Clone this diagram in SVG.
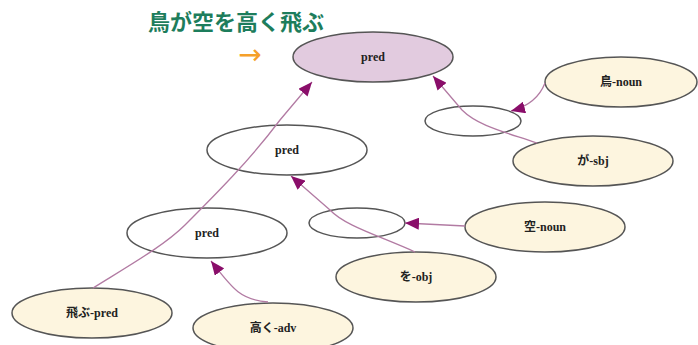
<svg xmlns="http://www.w3.org/2000/svg" width="698" height="345" viewBox="0 0 698 345">
<defs>
<marker id="ah" viewBox="0 0 14 12" refX="14" refY="6" markerWidth="14" markerHeight="12" markerUnits="userSpaceOnUse" orient="auto">
<path d="M0,0 L14,6 L0,12 Z" fill="#8a0e6a"/>
</marker>
<style>
.n ellipse{stroke:#555;stroke-width:1.5}
.w{fill:#fff}
.y{fill:#fdf5df}
.p{fill:#e2cbdf}
.t{font-family:"Liberation Serif","Noto Sans CJK JP",serif;font-weight:bold;font-size:12px;fill:#222;text-anchor:middle}
.e{fill:none;stroke:#b27ba3;stroke-width:1.3;marker-end:url(#ah)}
</style>
</defs>
<rect width="698" height="345" fill="#fff"/>
<text x="148" y="30" font-family="Noto Sans CJK JP, sans-serif" font-weight="bold" font-size="22" fill="#1d7d5c">鳥が空を高く飛ぶ</text>
<text x="250" y="64" font-family="DejaVu Sans, sans-serif" font-size="28" fill="#f5a02a" text-anchor="middle">→</text>
<g id="n_pred_top" class="n"><ellipse class="p" cx="373" cy="57" rx="80" ry="25"/><text class="t" x="373" y="61">pred</text></g>
<g id="n_tori" class="n"><ellipse class="y" cx="621" cy="82" rx="76" ry="25"/><text class="t" x="621" y="86">鳥-noun</text></g>
<g id="n_empty1" class="n"><ellipse class="w" cx="473" cy="121" rx="48" ry="15"/></g>
<g id="n_ga" class="n"><ellipse class="y" cx="593" cy="161" rx="80" ry="25"/><text class="t" x="593" y="165">が-sbj</text></g>
<g id="n_pred_mid" class="n"><ellipse class="w" cx="287" cy="150" rx="80" ry="25"/><text class="t" x="287" y="154">pred</text></g>
<g id="n_pred_low" class="n"><ellipse class="w" cx="207" cy="233" rx="80" ry="25"/><text class="t" x="207" y="237">pred</text></g>
<g id="n_empty2" class="n"><ellipse class="w" cx="357" cy="223" rx="48" ry="15"/></g>
<g id="n_sora" class="n"><ellipse class="y" cx="545" cy="227" rx="80" ry="25"/><text class="t" x="545" y="231">空-noun</text></g>
<g id="n_wo" class="n"><ellipse class="y" cx="416" cy="277" rx="80" ry="25"/><text class="t" x="416" y="281">を-obj</text></g>
<g id="n_tobu" class="n"><ellipse class="y" cx="92" cy="313" rx="80" ry="25"/><text class="t" x="92" y="317">飛ぶ-pred</text></g>
<g id="n_takaku" class="n"><ellipse class="y" cx="273" cy="328" rx="80" ry="25"/><text class="t" x="273" y="332">高く-adv</text></g>
<g id="connectors">
<path class="e" d="M93,288 C130,265 165,245 185,225 C215,195 250,160 280,120 L312,82"/>
<path class="e" d="M268,302 C240,300 232,288 211,261"/>
<path class="e" d="M415,252 C380,236 345,226 330,210 L291,176"/>
<path class="e" d="M465,226 L405,223"/>
<path class="e" d="M545,83 C540,96 530,106 511,111"/>
<path class="e" d="M537,143 C505,132 478,126 462,110 L433,76"/>
</g>
</svg>
